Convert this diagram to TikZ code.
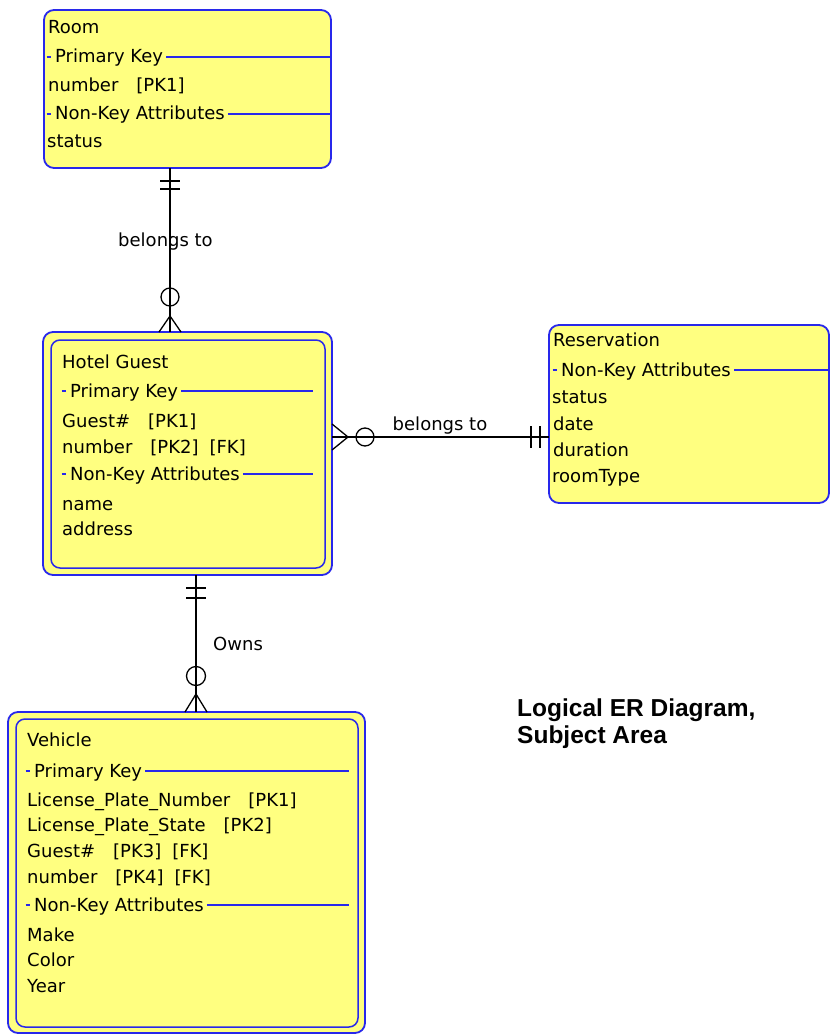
\documentclass[tikz,border=0pt]{standalone}
\usepackage{fontspec}
\setmainfont{DejaVu Sans}
\newfontfamily\titlefont{Liberation Sans}
\usetikzlibrary{calc}
\definecolor{erblue}{RGB}{40,40,235}
\definecolor{eryellow}{RGB}{255,255,128}

% section header: small blue tick, caption, blue rule running to the right
% #1 name, #2 x of tick, #3 baseline, #4 caption, #5 x where the rule ends
\newcommand\ersection[5]{%
  \draw[sect] (#2-0.5,#3-6) -- (#2+3.5,#3-6);
  \node[attr] (#1) at (#2+8,#3) {#4};
  \coordinate (#1-l) at ($(#1.base east)+(3,-6)$);
  \draw[sect] (#1-l) -- (#5,#3-6);
}
\newcommand\gap{\hspace{18pt}}
\newcommand\sgap{\hspace{11pt}}

\begin{document}
\begin{tikzpicture}[x=1pt,y=-1pt,
  ent/.style={draw=erblue, fill=eryellow, line width=1.8pt, rounded corners=10pt,
              anchor=north west, inner sep=0pt, outer sep=0pt},
  entin/.style={draw=erblue, line width=1.5pt, rounded corners=9pt,
              anchor=north west, inner sep=0pt, outer sep=0pt},
  attr/.style={anchor=base west, inner sep=0pt, font=\fontsize{18}{20}\selectfont},
  lbl/.style={inner sep=0pt, font=\fontsize{18}{20}\selectfont},
  sect/.style={draw=erblue, line width=1.4pt},
  rel/.style={draw=black, line width=1.3pt},
  ttl/.style={anchor=base west, inner sep=0pt, font=\titlefont\bfseries\fontsize{24.5}{27}\selectfont}]
\useasboundingbox (0,0) rectangle (830,1035);

% ---------- Room ----------
\node[ent, minimum width=287pt, minimum height=158pt] (room) at (44,10) {};
\node[attr] (room-name) at (48,34) {Room};
\ersection{room-pk}{47}{63}{Primary Key}{331}
\node[attr] (room-a1) at (48,92) {number\gap[PK1]};
\ersection{room-nk}{47}{120}{Non-Key Attributes}{331}
\node[attr] (room-a2) at (47,148) {status};

% ---------- Hotel Guest ----------
\node[ent, minimum width=289pt, minimum height=243pt] (guest) at (43,332) {};
\node[entin, minimum width=274pt, minimum height=228pt] (guestin) at (51,340) {};
\node[attr] (guest-name) at (62,368) {Hotel Guest};
\ersection{guest-pk}{62}{397}{Primary Key}{313}
\node[attr] (guest-a1) at (62,427) {Guest\#\gap[PK1]};
\node[attr] (guest-a2) at (62,453) {number\gap[PK2]\sgap[FK]};
\ersection{guest-nk}{62}{480}{Non-Key Attributes}{313}
\node[attr] (guest-a3) at (62,510) {name};
\node[attr] (guest-a4) at (62,535) {address};

% ---------- Reservation ----------
\node[ent, minimum width=280pt, minimum height=178pt] (res) at (549,325) {};
\node[attr] (res-name) at (553,346) {Reservation};
\ersection{res-nk}{553}{376}{Non-Key Attributes}{829}
\node[attr] (res-a1) at (552,403) {status};
\node[attr] (res-a2) at (553,430) {date};
\node[attr] (res-a3) at (553,456) {duration};
\node[attr] (res-a4) at (552,482) {roomType};

% ---------- Vehicle ----------
\node[ent, minimum width=357pt, minimum height=321pt] (veh) at (8,712) {};
\node[entin, minimum width=342pt, minimum height=308pt] (vehin) at (16,719) {};
\node[attr] (veh-name) at (27,746) {Vehicle};
\ersection{veh-pk}{26}{777}{Primary Key}{349}
\node[attr] (veh-a1) at (27,806) {License\_Plate\_Number\gap[PK1]};
\node[attr] (veh-a2) at (27,831) {License\_Plate\_State\gap[PK2]};
\node[attr] (veh-a3) at (27,857) {Guest\#\gap[PK3]\sgap[FK]};
\node[attr] (veh-a4) at (27,883) {number\gap[PK4]\sgap[FK]};
\ersection{veh-nk}{26}{911}{Non-Key Attributes}{349}
\node[attr] (veh-a5) at (27,941) {Make};
\node[attr] (veh-a6) at (27,966) {Color};
\node[attr] (veh-a7) at (27,992) {Year};

% ---------- Room -- Hotel Guest ----------
\coordinate (rg-top) at ($(room.south)+(-17.5,0)$);
\coordinate (rg-bot) at ($(guest.north)+(-17.5,0)$);
\draw[rel] (rg-top) -- (rg-bot);
\draw[rel] ($(rg-top)+(-10,13)$) -- ++(20,0);
\draw[rel] ($(rg-top)+(-10,21)$) -- ++(20,0);
\draw[rel] ($(rg-bot)+(0,-35)$) circle[radius=9];
\draw[rel] ($(rg-bot)+(-11,0)$) -- ($(rg-bot)+(0,-16)$) -- ($(rg-bot)+(11,0)$);
\node[lbl, anchor=base] (rg-lbl) at (165.5,246) {belongs to};

% ---------- Hotel Guest -- Reservation ----------
\coordinate (gr-l) at ($(guest.east)+(0,-16.5)$);
\coordinate (gr-r) at (gr-l -| res.west);
\draw[rel] (gr-l) -- (gr-r);
\draw[rel] ($(gr-l)+(0,-13)$) -- ($(gr-l)+(16,0)$) -- ($(gr-l)+(0,13)$);
\draw[rel] ($(gr-l)+(33,0)$) circle[radius=9];
\draw[rel] ($(gr-r)+(-18,-11)$) -- ++(0,22);
\draw[rel] ($(gr-r)+(-9,-11)$) -- ++(0,22);
\node[lbl, anchor=base] (gr-lbl) at (440,430) {belongs to};

% ---------- Hotel Guest -- Vehicle ----------
\coordinate (gv-top) at ($(guest.south)+(8.5,0)$);
\coordinate (gv-bot) at (gv-top |- veh.north);
\draw[rel] (gv-top) -- (gv-bot);
\draw[rel] ($(gv-top)+(-10,13)$) -- ++(20,0);
\draw[rel] ($(gv-top)+(-10,23)$) -- ++(20,0);
\draw[rel] ($(gv-bot)+(0,-36)$) circle[radius=9.5];
\draw[rel] ($(gv-bot)+(-11,0)$) -- ($(gv-bot)+(0,-18)$) -- ($(gv-bot)+(11,0)$);
\node[lbl, anchor=base west] (gv-lbl) at (213,650) {Owns};

% ---------- caption ----------
\node[ttl] (cap1) at (517,716) {Logical ER Diagram,};
\node[ttl] (cap2) at (517,743) {Subject Area};
\end{tikzpicture}
\end{document}
